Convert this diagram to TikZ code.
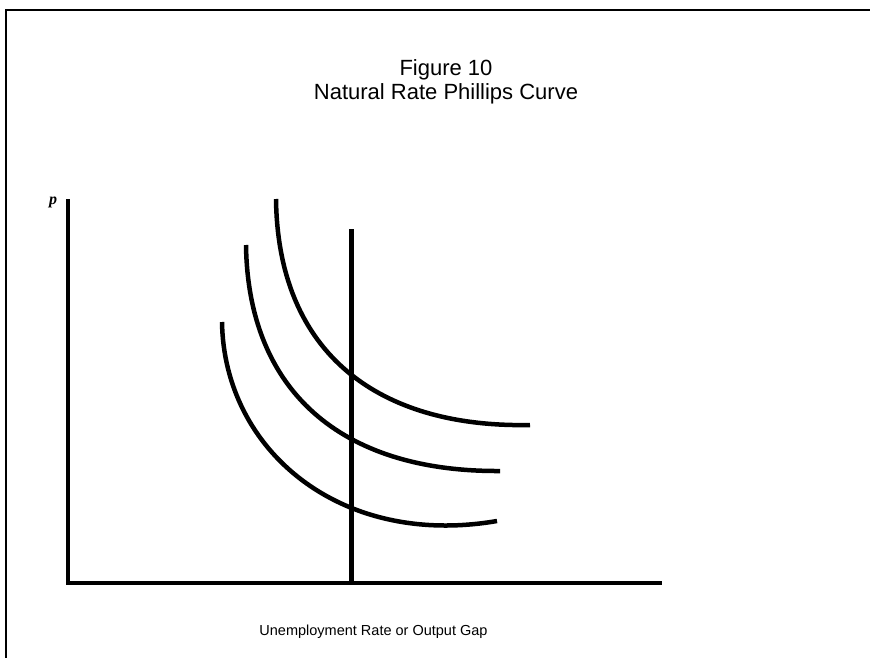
\documentclass[tikz,border=0pt]{standalone}
\usepackage{fontspec}
\setmainfont{Liberation Sans}
\newfontfamily\symfont{Liberation Serif}
\begin{document}
\begin{tikzpicture}[x=1pt,y=-1pt,
  frame/.style={line width=2pt},
  axis/.style={line width=4pt},
  natrate/.style={line width=5pt},
  pcurve/.style={line width=4.5pt,line cap=butt,line join=round},
  titletext/.style={font=\fontsize{22}{24}\selectfont,anchor=base},
  labeltext/.style={font=\fontsize{14.5}{16}\selectfont,anchor=base}]
\useasboundingbox (0,0) rectangle (870,658);
% page frame (top and left edges)
\coordinate (fbl) at (6,659);
\coordinate (ftl) at (6,10);
\coordinate (ftr) at (871,10);
\draw[frame] (fbl) -- (ftl) -- (ftr);
% title
\node[titletext] (t1) at (446,76) {Figure 10};
\node[titletext] (t2) at (446,100) {Natural Rate Phillips Curve};
% axes
\coordinate (ytop) at (68,199);
\coordinate (ybot) at (68,584.5);
\coordinate (xstart) at (66,582.5);
\coordinate (xend) at (662,582.5);
\draw[axis] (ytop) -- (ybot);
\draw[axis] (xstart) -- (xend);
\node[font=\symfont\bfseries\itshape\fontsize{16}{17}\selectfont] (plabel) at (53,202) {p};
\node[labeltext] (xlabel) at (373.5,635) {Unemployment Rate or Output Gap};
% natural rate (vertical) line
\coordinate (ntop) at (351.5,229);
\coordinate (nbot) at (351.5,584);
\draw[natrate] (ntop) -- (nbot);
% short-run Phillips curves
\coordinate (c3a) at (276,199);
\coordinate (c3b) at (530,425);
\draw[pcurve] (c3a) .. controls (278,355) and (380,428) .. (c3b);
\coordinate (c2a) at (246,245);
\coordinate (c2b) at (500,471);
\draw[pcurve] (c2a) .. controls (248,390) and (340,472) .. (c2b);
\coordinate (c1a) at (222,322);
\coordinate (c1b) at (497,521);
\draw[pcurve] (c1a) .. controls (224,450) and (340,548) .. (c1b);
\end{tikzpicture}
\end{document}
